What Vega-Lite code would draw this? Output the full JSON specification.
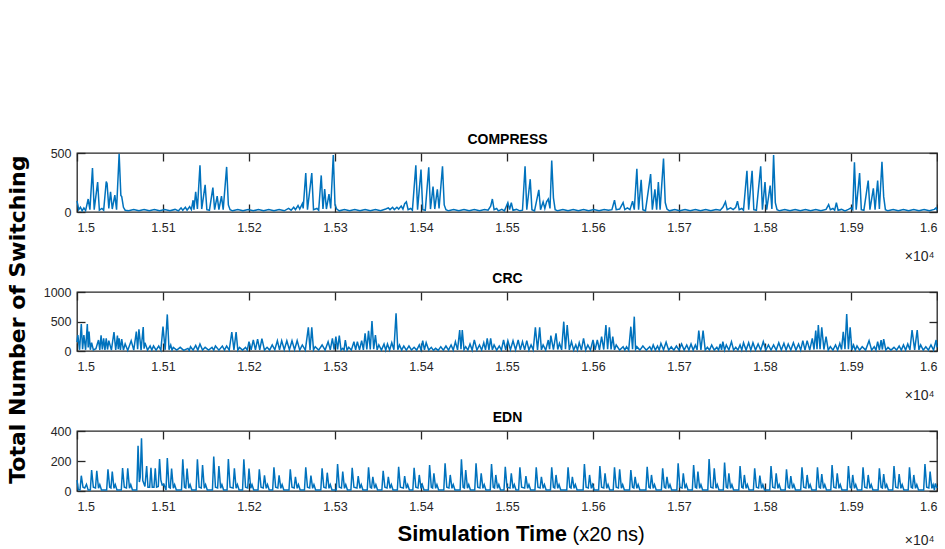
{
"$schema": "https://vega.github.io/schema/vega-lite/v6.json",
"background": "white",
"padding": {"left": 6, "top": 131, "right": -3, "bottom": 0},
"title": {"text": "Total Number of Switching", "orient": "left", "anchor": "middle", "font": "DejaVu Sans", "fontSize": 22, "fontWeight": "bold", "color": "#000000", "offset": 13, "dx": 20},
"config": {
  "font": "Liberation Sans",
  "view": {"stroke": "#262626", "strokeWidth": 1.3},
  "axis": {"domain": false, "grid": false, "tickColor": "#262626", "tickWidth": 1.3, "tickSize": -8, "labelColor": "#262626", "labelFont": "Liberation Sans", "labelFontSize": 12.5, "titleFont": "Liberation Sans"}
},
"spacing": 6,
"datasets": {
"compress": [
{"t":15000,"v":95},{"t":15002,"v":20},{"t":15004,"v":40},{"t":15006,"v":10},{"t":15008,"v":35},{"t":15010,"v":12},{"t":15013,"v":110},{"t":15015,"v":20},{"t":15018,"v":373},{"t":15020,"v":20},{"t":15024,"v":253},{"t":15026,"v":15},{"t":15029,"v":30},{"t":15031,"v":15},{"t":15034,"v":258},{"t":15035,"v":240},{"t":15037,"v":30},{"t":15039,"v":172},{"t":15041,"v":25},{"t":15044,"v":143},{"t":15046,"v":20},{"t":15049,"v":494},{"t":15051,"v":140},{"t":15052,"v":130},{"t":15054,"v":40},{"t":15056,"v":15},
{"t":15060,"v":10},{"t":15066,"v":22},{"t":15072,"v":10},{"t":15078,"v":22},{"t":15084,"v":10},{"t":15090,"v":22},{"t":15096,"v":10},{"t":15102,"v":22},{"t":15108,"v":10},{"t":15114,"v":22},{"t":15118,"v":10},{"t":15121,"v":35},{"t":15123,"v":15},{"t":15126,"v":40},{"t":15128,"v":15},{"t":15131,"v":45},{"t":15133,"v":20},{"t":15135,"v":100},{"t":15136,"v":20},{"t":15138,"v":172},{"t":15140,"v":25},{"t":15143,"v":396},{"t":15145,"v":25},{"t":15149,"v":230},{"t":15151,"v":20},{"t":15154,"v":15},{"t":15158,"v":207},{"t":15160,"v":20},{"t":15163,"v":135},{"t":15165,"v":20},{"t":15168,"v":135},{"t":15170,"v":20},{"t":15174,"v":382},{"t":15176,"v":60},{"t":15178,"v":20},
{"t":15181,"v":10},{"t":15187,"v":22},{"t":15193,"v":10},{"t":15199,"v":22},{"t":15205,"v":10},{"t":15211,"v":22},{"t":15217,"v":10},{"t":15223,"v":22},{"t":15229,"v":10},{"t":15235,"v":22},{"t":15241,"v":10},{"t":15246,"v":30},{"t":15249,"v":15},{"t":15252,"v":40},{"t":15254,"v":20},{"t":15257,"v":55},{"t":15259,"v":25},{"t":15262,"v":70},{"t":15263,"v":30},{"t":15266,"v":330},{"t":15268,"v":20},{"t":15273,"v":330},{"t":15275,"v":20},{"t":15279,"v":30},{"t":15281,"v":15},{"t":15284,"v":310},{"t":15286,"v":25},{"t":15288,"v":195},{"t":15290,"v":25},{"t":15293,"v":152},{"t":15295,"v":30},{"t":15298,"v":482},{"t":15300,"v":60},{"t":15302,"v":25},
{"t":15305,"v":10},{"t":15311,"v":22},{"t":15317,"v":10},{"t":15323,"v":22},{"t":15329,"v":10},{"t":15335,"v":22},{"t":15341,"v":10},{"t":15347,"v":22},{"t":15353,"v":10},{"t":15359,"v":25},{"t":15362,"v":35},{"t":15364,"v":20},{"t":15367,"v":40},{"t":15369,"v":20},{"t":15372,"v":40},{"t":15374,"v":25},{"t":15377,"v":50},{"t":15379,"v":25},{"t":15381,"v":70},{"t":15383,"v":86},{"t":15385,"v":20},{"t":15388,"v":30},{"t":15390,"v":15},{"t":15394,"v":396},{"t":15396,"v":20},{"t":15400,"v":359},{"t":15402,"v":20},{"t":15405,"v":15},{"t":15409,"v":379},{"t":15411,"v":25},{"t":15414,"v":215},{"t":15416,"v":25},{"t":15419,"v":192},{"t":15421,"v":30},{"t":15425,"v":387},{"t":15427,"v":60},{"t":15429,"v":20},
{"t":15432,"v":10},{"t":15438,"v":22},{"t":15444,"v":10},{"t":15450,"v":22},{"t":15456,"v":10},{"t":15462,"v":22},{"t":15468,"v":10},{"t":15474,"v":22},{"t":15478,"v":15},{"t":15481,"v":50},{"t":15483,"v":110},{"t":15485,"v":20},{"t":15488,"v":30},{"t":15490,"v":10},{"t":15494,"v":22},{"t":15497,"v":10},{"t":15501,"v":80},{"t":15503,"v":20},{"t":15505,"v":80},{"t":15507,"v":15},{"t":15511,"v":22},{"t":15515,"v":10},{"t":15518,"v":15},{"t":15521,"v":387},{"t":15523,"v":20},{"t":15527,"v":278},{"t":15529,"v":20},{"t":15532,"v":10},{"t":15537,"v":187},{"t":15539,"v":20},{"t":15542,"v":86},{"t":15544,"v":30},{"t":15546,"v":86},{"t":15548,"v":110},{"t":15550,"v":30},{"t":15552,"v":436},{"t":15554,"v":120},{"t":15556,"v":20},
{"t":15559,"v":10},{"t":15565,"v":22},{"t":15571,"v":10},{"t":15577,"v":22},{"t":15583,"v":10},{"t":15589,"v":22},{"t":15595,"v":10},{"t":15601,"v":22},{"t":15607,"v":10},{"t":15613,"v":22},{"t":15618,"v":15},{"t":15622,"v":20},{"t":15625,"v":100},{"t":15627,"v":20},{"t":15631,"v":25},{"t":15635,"v":80},{"t":15637,"v":20},{"t":15640,"v":35},{"t":15643,"v":20},{"t":15646,"v":92},{"t":15648,"v":20},{"t":15651,"v":367},{"t":15653,"v":20},{"t":15656,"v":272},{"t":15658,"v":20},{"t":15661,"v":10},{"t":15667,"v":321},{"t":15669,"v":20},{"t":15672,"v":192},{"t":15674,"v":20},{"t":15676,"v":253},{"t":15678,"v":20},{"t":15682,"v":453},{"t":15684,"v":80},{"t":15686,"v":25},
{"t":15689,"v":10},{"t":15695,"v":22},{"t":15701,"v":10},{"t":15707,"v":22},{"t":15713,"v":10},{"t":15719,"v":22},{"t":15725,"v":10},{"t":15731,"v":22},{"t":15737,"v":10},{"t":15743,"v":22},{"t":15748,"v":15},{"t":15751,"v":40},{"t":15754,"v":86},{"t":15756,"v":20},{"t":15760,"v":35},{"t":15763,"v":20},{"t":15766,"v":40},{"t":15768,"v":92},{"t":15770,"v":20},{"t":15773,"v":30},{"t":15775,"v":15},{"t":15779,"v":350},{"t":15781,"v":20},{"t":15785,"v":350},{"t":15787,"v":20},{"t":15790,"v":15},{"t":15795,"v":387},{"t":15797,"v":20},{"t":15800,"v":253},{"t":15802,"v":20},{"t":15806,"v":224},{"t":15808,"v":25},{"t":15810,"v":482},{"t":15812,"v":80},{"t":15814,"v":20},
{"t":15817,"v":10},{"t":15823,"v":22},{"t":15829,"v":10},{"t":15835,"v":22},{"t":15841,"v":10},{"t":15847,"v":22},{"t":15853,"v":10},{"t":15859,"v":22},{"t":15865,"v":10},{"t":15871,"v":22},{"t":15874,"v":63},{"t":15876,"v":20},{"t":15879,"v":30},{"t":15881,"v":15},{"t":15883,"v":80},{"t":15885,"v":15},{"t":15889,"v":22},{"t":15893,"v":10},{"t":15897,"v":22},{"t":15900,"v":35},{"t":15902,"v":20},{"t":15904,"v":422},{"t":15906,"v":20},{"t":15910,"v":330},{"t":15912,"v":20},{"t":15915,"v":15},{"t":15920,"v":267},{"t":15922,"v":20},{"t":15926,"v":201},{"t":15928,"v":20},{"t":15931,"v":267},{"t":15933,"v":25},{"t":15936,"v":425},{"t":15938,"v":130},{"t":15940,"v":20},
{"t":15943,"v":10},{"t":15949,"v":22},{"t":15955,"v":10},{"t":15961,"v":22},{"t":15967,"v":10},{"t":15973,"v":22},{"t":15979,"v":10},{"t":15985,"v":22},{"t":15991,"v":10},{"t":15997,"v":22},{"t":15999,"v":35},{"t":16000,"v":15}
],
"crc": [
{"t":15000,"v":150},{"t":15001,"v":270},{"t":15003,"v":20},{"t":15005,"v":458},{"t":15006.5,"v":30},{"t":15008,"v":270},{"t":15010,"v":20},{"t":15012,"v":458},{"t":15013,"v":60},{"t":15014,"v":328},{"t":15015.5,"v":20},{"t":15017,"v":141},{"t":15019,"v":17},{"t":15022,"v":40},{"t":15025,"v":186},{"t":15026.5,"v":20},{"t":15028,"v":265},{"t":15029.5,"v":25},{"t":15031,"v":215},{"t":15032.5,"v":20},{"t":15034,"v":215},{"t":15035.5,"v":25},{"t":15037,"v":175},{"t":15040,"v":15},{"t":15043,"v":322},{"t":15045,"v":20},{"t":15047,"v":260},{"t":15048,"v":30},{"t":15049,"v":215},{"t":15050.5,"v":20},{"t":15052,"v":200},{"t":15054,"v":15},{"t":15056,"v":120},{"t":15059,"v":10},{"t":15063,"v":175},{"t":15066,"v":15},{"t":15069,"v":328},{"t":15070.5,"v":30},{"t":15072,"v":367},{"t":15074.5,"v":15},{"t":15077,"v":407},{"t":15078,"v":40},{"t":15079,"v":141},{"t":15082,"v":15},{"t":15085,"v":85},{"t":15087,"v":15},{"t":15089,"v":85},{"t":15092,"v":15},{"t":15095,"v":85},{"t":15097.5,"v":15},{"t":15100,"v":412},{"t":15102.5,"v":20},{"t":15105,"v":620},{"t":15107,"v":20},{"t":15109,"v":102},{"t":15110.5,"v":15},{"t":15112,"v":62},{"t":15116,"v":15},{"t":15120,"v":62},{"t":15124,"v":10},{"t":15129,"v":45},{"t":15130.5,"v":10},{"t":15132,"v":73},{"t":15135,"v":15},{"t":15138,"v":96},{"t":15140.5,"v":15},{"t":15143,"v":119},{"t":15146,"v":15},{"t":15149,"v":62},{"t":15153,"v":15},{"t":15157,"v":62},{"t":15159,"v":15},{"t":15161,"v":85},{"t":15165,"v":15},{"t":15169,"v":85},{"t":15171.5,"v":15},{"t":15174,"v":85},{"t":15177,"v":15},{"t":15180,"v":322},{"t":15182.5,"v":20},{"t":15185,"v":322},{"t":15187,"v":15},{"t":15189,"v":62},{"t":15192.5,"v":15},{"t":15196,"v":62},{"t":15198,"v":15},{"t":15200,"v":158},{"t":15202.5,"v":20},{"t":15205,"v":186},{"t":15207.5,"v":20},{"t":15210,"v":200},{"t":15212.5,"v":20},{"t":15215,"v":210},{"t":15218,"v":15},{"t":15221,"v":62},{"t":15224,"v":15},{"t":15227,"v":102},{"t":15230,"v":20},{"t":15233,"v":175},{"t":15235.5,"v":20},{"t":15238,"v":175},{"t":15241,"v":20},{"t":15244,"v":175},{"t":15247,"v":20},{"t":15250,"v":175},{"t":15253,"v":20},{"t":15256,"v":175},{"t":15259,"v":15},{"t":15262,"v":102},{"t":15265.5,"v":15},{"t":15269,"v":400},{"t":15271,"v":20},{"t":15273,"v":400},{"t":15275,"v":20},{"t":15277,"v":73},{"t":15281,"v":15},{"t":15285,"v":102},{"t":15288.5,"v":15},{"t":15292,"v":158},{"t":15294.5,"v":20},{"t":15297,"v":215},{"t":15299,"v":25},{"t":15301,"v":243},{"t":15303,"v":25},{"t":15305,"v":260},{"t":15307,"v":15},{"t":15309,"v":45},{"t":15310.5,"v":15},{"t":15312,"v":186},{"t":15314,"v":15},{"t":15316,"v":62},{"t":15319,"v":15},{"t":15322,"v":158},{"t":15324,"v":20},{"t":15326,"v":158},{"t":15328.5,"v":20},{"t":15331,"v":175},{"t":15333,"v":20},{"t":15335,"v":300},{"t":15337,"v":25},{"t":15339,"v":340},{"t":15341,"v":25},{"t":15343,"v":508},{"t":15345,"v":30},{"t":15347,"v":271},{"t":15349,"v":20},{"t":15351,"v":102},{"t":15354,"v":15},{"t":15357,"v":119},{"t":15359,"v":15},{"t":15361,"v":119},{"t":15363.5,"v":15},{"t":15366,"v":141},{"t":15368.5,"v":20},{"t":15371,"v":638},{"t":15373,"v":20},{"t":15375,"v":102},{"t":15377.5,"v":15},{"t":15380,"v":85},{"t":15383,"v":15},{"t":15386,"v":85},{"t":15389,"v":15},{"t":15392,"v":62},{"t":15395,"v":15},{"t":15398,"v":102},{"t":15400,"v":20},{"t":15402,"v":175},{"t":15404,"v":20},{"t":15406,"v":141},{"t":15409,"v":15},{"t":15412,"v":62},{"t":15414.5,"v":10},{"t":15417,"v":45},{"t":15420,"v":10},{"t":15423,"v":73},{"t":15426,"v":15},{"t":15429,"v":85},{"t":15432,"v":15},{"t":15435,"v":102},{"t":15437.5,"v":15},{"t":15440,"v":158},{"t":15442.5,"v":20},{"t":15445,"v":356},{"t":15446.5,"v":30},{"t":15448,"v":356},{"t":15450,"v":20},{"t":15452,"v":73},{"t":15454.5,"v":15},{"t":15457,"v":119},{"t":15459.5,"v":15},{"t":15462,"v":186},{"t":15465,"v":15},{"t":15468,"v":102},{"t":15470.5,"v":15},{"t":15473,"v":141},{"t":15475,"v":20},{"t":15477,"v":215},{"t":15479,"v":20},{"t":15481,"v":215},{"t":15483,"v":20},{"t":15485,"v":102},{"t":15488,"v":15},{"t":15491,"v":85},{"t":15493.5,"v":15},{"t":15496,"v":186},{"t":15498.5,"v":20},{"t":15501,"v":175},{"t":15504,"v":20},{"t":15507,"v":175},{"t":15510,"v":20},{"t":15513,"v":186},{"t":15515.5,"v":20},{"t":15518,"v":158},{"t":15520.5,"v":20},{"t":15523,"v":175},{"t":15525.5,"v":15},{"t":15528,"v":102},{"t":15530.5,"v":20},{"t":15533,"v":400},{"t":15535.5,"v":20},{"t":15538,"v":400},{"t":15540,"v":20},{"t":15542,"v":102},{"t":15545,"v":15},{"t":15548,"v":186},{"t":15549.5,"v":30},{"t":15551,"v":260},{"t":15554,"v":25},{"t":15557,"v":300},{"t":15559,"v":25},{"t":15561,"v":130},{"t":15563.5,"v":20},{"t":15566,"v":497},{"t":15568,"v":30},{"t":15570,"v":440},{"t":15572.5,"v":20},{"t":15575,"v":158},{"t":15577.5,"v":15},{"t":15580,"v":102},{"t":15582,"v":15},{"t":15584,"v":141},{"t":15586.5,"v":15},{"t":15589,"v":215},{"t":15591.5,"v":15},{"t":15594,"v":102},{"t":15597,"v":15},{"t":15600,"v":186},{"t":15602.5,"v":20},{"t":15605,"v":186},{"t":15607.5,"v":20},{"t":15610,"v":243},{"t":15612.5,"v":25},{"t":15615,"v":440},{"t":15617,"v":30},{"t":15619,"v":400},{"t":15621,"v":25},{"t":15623,"v":243},{"t":15625,"v":20},{"t":15627,"v":102},{"t":15631,"v":15},{"t":15635,"v":73},{"t":15637,"v":15},{"t":15639,"v":73},{"t":15641.5,"v":15},{"t":15644,"v":412},{"t":15646,"v":30},{"t":15648,"v":582},{"t":15649.5,"v":30},{"t":15651,"v":73},{"t":15654.5,"v":15},{"t":15658,"v":85},{"t":15662,"v":15},{"t":15666,"v":73},{"t":15668,"v":15},{"t":15670,"v":102},{"t":15672.5,"v":15},{"t":15675,"v":85},{"t":15677,"v":15},{"t":15679,"v":130},{"t":15682,"v":20},{"t":15685,"v":150},{"t":15688,"v":15},{"t":15691,"v":73},{"t":15694,"v":15},{"t":15697,"v":85},{"t":15700,"v":15},{"t":15703,"v":119},{"t":15706,"v":15},{"t":15709,"v":102},{"t":15711.5,"v":15},{"t":15714,"v":119},{"t":15716.5,"v":15},{"t":15719,"v":102},{"t":15721,"v":20},{"t":15723,"v":345},{"t":15725.5,"v":20},{"t":15728,"v":345},{"t":15730.5,"v":15},{"t":15733,"v":62},{"t":15735.5,"v":15},{"t":15738,"v":102},{"t":15741,"v":15},{"t":15744,"v":62},{"t":15746,"v":15},{"t":15748,"v":119},{"t":15749.5,"v":20},{"t":15751,"v":158},{"t":15753,"v":15},{"t":15755,"v":102},{"t":15758,"v":15},{"t":15761,"v":158},{"t":15763.5,"v":15},{"t":15766,"v":62},{"t":15768.5,"v":15},{"t":15771,"v":102},{"t":15773,"v":15},{"t":15775,"v":141},{"t":15778,"v":15},{"t":15781,"v":141},{"t":15783.5,"v":15},{"t":15786,"v":141},{"t":15789,"v":15},{"t":15792,"v":119},{"t":15795,"v":15},{"t":15798,"v":158},{"t":15801,"v":15},{"t":15804,"v":102},{"t":15807,"v":15},{"t":15810,"v":102},{"t":15813,"v":15},{"t":15816,"v":141},{"t":15819,"v":15},{"t":15822,"v":130},{"t":15824.5,"v":15},{"t":15827,"v":119},{"t":15830,"v":15},{"t":15833,"v":141},{"t":15836,"v":15},{"t":15839,"v":119},{"t":15841.5,"v":15},{"t":15844,"v":175},{"t":15846.5,"v":15},{"t":15849,"v":175},{"t":15852,"v":15},{"t":15855,"v":215},{"t":15857,"v":25},{"t":15859,"v":345},{"t":15860.5,"v":30},{"t":15862,"v":440},{"t":15864,"v":30},{"t":15866,"v":400},{"t":15868.5,"v":25},{"t":15871,"v":243},{"t":15873.5,"v":15},{"t":15876,"v":73},{"t":15879,"v":15},{"t":15882,"v":102},{"t":15884.5,"v":15},{"t":15887,"v":130},{"t":15889,"v":25},{"t":15891,"v":327},{"t":15893,"v":30},{"t":15895,"v":627},{"t":15897,"v":30},{"t":15899,"v":400},{"t":15901,"v":20},{"t":15903,"v":102},{"t":15905,"v":15},{"t":15907,"v":85},{"t":15910,"v":15},{"t":15913,"v":73},{"t":15917,"v":15},{"t":15921,"v":175},{"t":15924,"v":15},{"t":15927,"v":73},{"t":15929,"v":15},{"t":15931,"v":158},{"t":15933,"v":20},{"t":15935,"v":186},{"t":15936.5,"v":25},{"t":15938,"v":200},{"t":15940.5,"v":15},{"t":15943,"v":62},{"t":15946.5,"v":15},{"t":15950,"v":62},{"t":15953,"v":15},{"t":15956,"v":85},{"t":15958.5,"v":15},{"t":15961,"v":102},{"t":15963.5,"v":15},{"t":15966,"v":119},{"t":15968.5,"v":20},{"t":15971,"v":356},{"t":15974,"v":20},{"t":15977,"v":356},{"t":15979,"v":20},{"t":15981,"v":102},{"t":15984,"v":15},{"t":15987,"v":73},{"t":15990,"v":15},{"t":15993,"v":102},{"t":15996,"v":15},{"t":15999,"v":186},{"t":16000,"v":60}
],
"edn": [
{"t":15000,"v":73},{"t":15001.5,"v":10},{"t":15003.5,"v":8},{"t":15005,"v":102},{"t":15007,"v":25},{"t":15009,"v":20},{"t":15011,"v":44},{"t":15013,"v":6},
{"t":15015.5,"v":6},{"t":15017,"v":140},{"t":15019,"v":25},{"t":15021.5,"v":20},{"t":15023,"v":135},{"t":15025,"v":18},{"t":15026.5,"v":42},{"t":15028.5,"v":6},
{"t":15034.5,"v":6},{"t":15036,"v":144},{"t":15038,"v":25},{"t":15039.5,"v":20},{"t":15041,"v":129},{"t":15043,"v":18},{"t":15044.5,"v":42},{"t":15046.5,"v":6},
{"t":15051.5,"v":6},{"t":15053,"v":153},{"t":15055,"v":25},{"t":15057.5,"v":20},{"t":15059,"v":151},{"t":15061,"v":18},{"t":15062.5,"v":42},{"t":15064.5,"v":6},
{"t":15069.5,"v":6},{"t":15071,"v":302},{"t":15072.5,"v":60},{"t":15073.5,"v":90},{"t":15075,"v":351},{"t":15076.5,"v":70},{"t":15079,"v":30},{"t":15081,"v":167},{"t":15082.5,"v":25},{"t":15084.5,"v":25},{"t":15086,"v":155},{"t":15087.5,"v":25},{"t":15089.5,"v":25},{"t":15091,"v":151},{"t":15092.5,"v":25},{"t":15094.5,"v":30},{"t":15096,"v":213},{"t":15097.5,"v":73},{"t":15099,"v":40},{"t":15101,"v":45},{"t":15103.5,"v":6},{"t":15105,"v":220},{"t":15107,"v":25},{"t":15108.5,"v":20},{"t":15110,"v":149},{"t":15112,"v":18},{"t":15113.5,"v":42},{"t":15115.5,"v":6},
{"t":15121.5,"v":6},{"t":15123,"v":211},{"t":15125,"v":25},{"t":15126.5,"v":20},{"t":15128,"v":149},{"t":15130,"v":18},{"t":15131.5,"v":42},{"t":15133.5,"v":6},
{"t":15138.5,"v":6},{"t":15140,"v":211},{"t":15142,"v":25},{"t":15144.5,"v":20},{"t":15146,"v":173},{"t":15148,"v":18},{"t":15149.5,"v":42},{"t":15151.5,"v":6},
{"t":15157.5,"v":6},{"t":15159,"v":229},{"t":15161,"v":25},{"t":15163.5,"v":20},{"t":15165,"v":167},{"t":15167,"v":18},{"t":15168.5,"v":42},{"t":15170.5,"v":6},
{"t":15174.5,"v":6},{"t":15176,"v":213},{"t":15178,"v":25},{"t":15181.5,"v":20},{"t":15183,"v":151},{"t":15185,"v":18},{"t":15186.5,"v":42},{"t":15188.5,"v":6},
{"t":15192.5,"v":6},{"t":15194,"v":211},{"t":15196,"v":25},{"t":15198.5,"v":20},{"t":15200,"v":149},{"t":15202,"v":18},{"t":15203.5,"v":42},{"t":15205.5,"v":6},
{"t":15210.5,"v":6},{"t":15212,"v":144},{"t":15214,"v":25},{"t":15216.5,"v":20},{"t":15218,"v":104},{"t":15220,"v":18},{"t":15221.5,"v":42},{"t":15223.5,"v":6},
{"t":15227.5,"v":6},{"t":15229,"v":158},{"t":15231,"v":25},{"t":15233.5,"v":20},{"t":15235,"v":104},{"t":15237,"v":18},{"t":15238.5,"v":42},{"t":15240.5,"v":6},
{"t":15246.5,"v":6},{"t":15248,"v":144},{"t":15250,"v":25},{"t":15252.5,"v":20},{"t":15254,"v":95},{"t":15256,"v":18},{"t":15257.5,"v":42},{"t":15259.5,"v":6},
{"t":15264.5,"v":6},{"t":15266,"v":158},{"t":15268,"v":25},{"t":15270.5,"v":20},{"t":15272,"v":102},{"t":15274,"v":18},{"t":15275.5,"v":42},{"t":15277.5,"v":6},
{"t":15283.5,"v":6},{"t":15285,"v":151},{"t":15287,"v":25},{"t":15289.5,"v":20},{"t":15291,"v":122},{"t":15293,"v":18},{"t":15294.5,"v":42},{"t":15296.5,"v":6},
{"t":15301.5,"v":6},{"t":15303,"v":180},{"t":15305,"v":25},{"t":15307.5,"v":20},{"t":15309,"v":129},{"t":15311,"v":18},{"t":15312.5,"v":42},{"t":15314.5,"v":6},
{"t":15318.5,"v":6},{"t":15320,"v":155},{"t":15322,"v":25},{"t":15325.5,"v":20},{"t":15327,"v":100},{"t":15329,"v":18},{"t":15330.5,"v":42},{"t":15332.5,"v":6},
{"t":15337.5,"v":6},{"t":15339,"v":158},{"t":15341,"v":25},{"t":15342.5,"v":20},{"t":15344,"v":95},{"t":15346,"v":18},{"t":15347.5,"v":42},{"t":15349.5,"v":6},
{"t":15354.5,"v":6},{"t":15356,"v":135},{"t":15358,"v":25},{"t":15360.5,"v":20},{"t":15362,"v":95},{"t":15364,"v":18},{"t":15365.5,"v":42},{"t":15367.5,"v":6},
{"t":15372.5,"v":6},{"t":15374,"v":162},{"t":15376,"v":25},{"t":15379.5,"v":20},{"t":15381,"v":100},{"t":15383,"v":18},{"t":15384.5,"v":42},{"t":15386.5,"v":6},
{"t":15390.5,"v":6},{"t":15392,"v":155},{"t":15394,"v":25},{"t":15396.5,"v":20},{"t":15398,"v":107},{"t":15400,"v":18},{"t":15401.5,"v":42},{"t":15403.5,"v":6},
{"t":15408.5,"v":6},{"t":15410,"v":173},{"t":15412,"v":25},{"t":15413.5,"v":20},{"t":15415,"v":118},{"t":15417,"v":18},{"t":15418.5,"v":42},{"t":15420.5,"v":6},
{"t":15426.5,"v":6},{"t":15428,"v":184},{"t":15430,"v":25},{"t":15432.5,"v":20},{"t":15434,"v":107},{"t":15436,"v":18},{"t":15437.5,"v":42},{"t":15439.5,"v":6},
{"t":15445.5,"v":6},{"t":15447,"v":211},{"t":15449,"v":25},{"t":15450.5,"v":20},{"t":15452,"v":140},{"t":15454,"v":18},{"t":15455.5,"v":42},{"t":15457.5,"v":6},
{"t":15462.5,"v":6},{"t":15464,"v":184},{"t":15466,"v":25},{"t":15468.5,"v":20},{"t":15470,"v":118},{"t":15472,"v":18},{"t":15473.5,"v":42},{"t":15475.5,"v":6},
{"t":15480.5,"v":6},{"t":15482,"v":180},{"t":15484,"v":25},{"t":15485.5,"v":20},{"t":15487,"v":107},{"t":15489,"v":18},{"t":15490.5,"v":42},{"t":15492.5,"v":6},
{"t":15496.5,"v":6},{"t":15498,"v":162},{"t":15500,"v":25},{"t":15503.5,"v":20},{"t":15505,"v":118},{"t":15507,"v":18},{"t":15508.5,"v":42},{"t":15510.5,"v":6},
{"t":15513.5,"v":6},{"t":15515,"v":158},{"t":15517,"v":25},{"t":15520.5,"v":20},{"t":15522,"v":100},{"t":15524,"v":18},{"t":15525.5,"v":42},{"t":15527.5,"v":6},
{"t":15532.5,"v":6},{"t":15534,"v":158},{"t":15536,"v":25},{"t":15538.5,"v":20},{"t":15540,"v":95},{"t":15542,"v":18},{"t":15543.5,"v":42},{"t":15545.5,"v":6},
{"t":15550.5,"v":6},{"t":15552,"v":158},{"t":15554,"v":25},{"t":15555.5,"v":20},{"t":15557,"v":107},{"t":15559,"v":18},{"t":15560.5,"v":42},{"t":15562.5,"v":6},
{"t":15569.5,"v":6},{"t":15571,"v":158},{"t":15573,"v":25},{"t":15574.5,"v":20},{"t":15576,"v":95},{"t":15578,"v":18},{"t":15579.5,"v":42},{"t":15581.5,"v":6},
{"t":15588.5,"v":6},{"t":15590,"v":180},{"t":15592,"v":25},{"t":15594.5,"v":20},{"t":15596,"v":107},{"t":15598,"v":18},{"t":15599.5,"v":42},{"t":15601.5,"v":6},
{"t":15606.5,"v":6},{"t":15608,"v":167},{"t":15610,"v":25},{"t":15612.5,"v":20},{"t":15614,"v":118},{"t":15616,"v":18},{"t":15617.5,"v":42},{"t":15619.5,"v":6},
{"t":15623.5,"v":6},{"t":15625,"v":158},{"t":15627,"v":25},{"t":15629.5,"v":20},{"t":15631,"v":144},{"t":15633,"v":18},{"t":15634.5,"v":42},{"t":15636.5,"v":6},
{"t":15642.5,"v":6},{"t":15644,"v":140},{"t":15646,"v":25},{"t":15647.5,"v":20},{"t":15649,"v":95},{"t":15651,"v":18},{"t":15652.5,"v":42},{"t":15654.5,"v":6},
{"t":15661.5,"v":6},{"t":15663,"v":162},{"t":15665,"v":25},{"t":15666.5,"v":20},{"t":15668,"v":107},{"t":15670,"v":18},{"t":15671.5,"v":42},{"t":15673.5,"v":6},
{"t":15679.5,"v":6},{"t":15681,"v":151},{"t":15683,"v":25},{"t":15684.5,"v":20},{"t":15686,"v":95},{"t":15688,"v":18},{"t":15689.5,"v":42},{"t":15691.5,"v":6},
{"t":15697.5,"v":6},{"t":15699,"v":184},{"t":15701,"v":25},{"t":15703.5,"v":20},{"t":15705,"v":118},{"t":15707,"v":18},{"t":15708.5,"v":42},{"t":15710.5,"v":6},
{"t":15715.5,"v":6},{"t":15717,"v":173},{"t":15719,"v":25},{"t":15720.5,"v":20},{"t":15722,"v":129},{"t":15724,"v":18},{"t":15725.5,"v":42},{"t":15727.5,"v":6},
{"t":15733.5,"v":6},{"t":15735,"v":213},{"t":15737,"v":25},{"t":15739.5,"v":20},{"t":15741,"v":151},{"t":15743,"v":18},{"t":15744.5,"v":42},{"t":15746.5,"v":6},
{"t":15751.5,"v":6},{"t":15753,"v":189},{"t":15755,"v":25},{"t":15756.5,"v":20},{"t":15758,"v":118},{"t":15760,"v":18},{"t":15761.5,"v":42},{"t":15763.5,"v":6},
{"t":15769.5,"v":6},{"t":15771,"v":167},{"t":15773,"v":25},{"t":15774.5,"v":20},{"t":15776,"v":107},{"t":15778,"v":18},{"t":15779.5,"v":42},{"t":15781.5,"v":6},
{"t":15786.5,"v":6},{"t":15788,"v":151},{"t":15790,"v":25},{"t":15792.5,"v":20},{"t":15794,"v":102},{"t":15796,"v":18},{"t":15797.5,"v":42},{"t":15799.5,"v":6},
{"t":15805.5,"v":6},{"t":15807,"v":167},{"t":15809,"v":25},{"t":15811.5,"v":20},{"t":15813,"v":118},{"t":15815,"v":18},{"t":15816.5,"v":42},{"t":15818.5,"v":6},
{"t":15823.5,"v":6},{"t":15825,"v":144},{"t":15827,"v":25},{"t":15828.5,"v":20},{"t":15830,"v":100},{"t":15832,"v":18},{"t":15833.5,"v":42},{"t":15835.5,"v":6},
{"t":15841.5,"v":6},{"t":15843,"v":158},{"t":15845,"v":25},{"t":15847.5,"v":20},{"t":15849,"v":107},{"t":15851,"v":18},{"t":15852.5,"v":42},{"t":15854.5,"v":6},
{"t":15859.5,"v":6},{"t":15861,"v":158},{"t":15863,"v":25},{"t":15864.5,"v":20},{"t":15866,"v":113},{"t":15868,"v":18},{"t":15869.5,"v":42},{"t":15871.5,"v":6},
{"t":15876.5,"v":6},{"t":15878,"v":173},{"t":15880,"v":25},{"t":15882.5,"v":20},{"t":15884,"v":118},{"t":15886,"v":18},{"t":15887.5,"v":42},{"t":15889.5,"v":6},
{"t":15895.5,"v":6},{"t":15897,"v":167},{"t":15899,"v":25},{"t":15900.5,"v":20},{"t":15902,"v":107},{"t":15904,"v":18},{"t":15905.5,"v":42},{"t":15907.5,"v":6},
{"t":15912.5,"v":6},{"t":15914,"v":158},{"t":15916,"v":25},{"t":15918.5,"v":20},{"t":15920,"v":107},{"t":15922,"v":18},{"t":15923.5,"v":42},{"t":15925.5,"v":6},
{"t":15931.5,"v":6},{"t":15933,"v":151},{"t":15935,"v":25},{"t":15936.5,"v":20},{"t":15938,"v":113},{"t":15940,"v":18},{"t":15941.5,"v":42},{"t":15943.5,"v":6},
{"t":15948.5,"v":6},{"t":15950,"v":167},{"t":15952,"v":25},{"t":15954.5,"v":20},{"t":15956,"v":113},{"t":15958,"v":18},{"t":15959.5,"v":42},{"t":15961.5,"v":6},
{"t":15966.5,"v":6},{"t":15968,"v":158},{"t":15970,"v":25},{"t":15971.5,"v":20},{"t":15973,"v":107},{"t":15975,"v":18},{"t":15976.5,"v":42},{"t":15978.5,"v":6},
{"t":15984.5,"v":6},{"t":15986,"v":180},{"t":15988,"v":25},{"t":15990.5,"v":20},{"t":15992,"v":129},{"t":15994,"v":18},{"t":15995.5,"v":42},{"t":15997,"v":6},{"t":15998,"v":50},{"t":16000,"v":20}
]
},
"vconcat": [
{
  "width": 860, "height": 59,
  "data": {"name": "compress"},
  "layer": [
    {"mark": {"type": "line", "color": "#0072BD", "strokeWidth": 1.5},
     "encoding": {
       "x": {"field": "t", "type": "quantitative", "scale": {"domain": [15000, 16000], "nice": false, "zero": false},
             "axis": {"orient": "bottom", "values": [15000,15100,15200,15300,15400,15500,15600,15700,15800,15900,16000], "labelExpr": "format(datum.value/10000, '.3~g')", "labelPadding": 17, "title": null}},
       "y": {"field": "v", "type": "quantitative", "scale": {"domain": [0, 500], "nice": false},
             "axis": {"orient": "left", "values": [0, 500], "format": "d", "labelPadding": 14, "title": null}}}},
    {"mark": {"type": "line", "opacity": 0},
     "encoding": {
       "x": {"field": "t", "type": "quantitative",
             "axis": {"orient": "top", "values": [15000,15100,15200,15300,15400,15500,15600,15700,15800,15900,16000], "labels": false, "title": "COMPRESS", "titleFontSize": 14, "titleFontWeight": "bold", "titleColor": "#000000", "titlePadding": 6}},
       "y": {"field": "v", "type": "quantitative",
             "axis": {"orient": "right", "values": [0, 500], "labels": false, "title": "×10⁴", "titleAngle": 0, "titleX": -3, "titleY": 103, "titleAlign": "right", "titleBaseline": "middle", "titleFontWeight": "normal", "titleFontSize": 14, "titleColor": "#262626"}}}}
  ],
  "resolve": {"axis": {"x": "independent", "y": "independent"}}
},
{
  "width": 860, "height": 59,
  "data": {"name": "crc"},
  "layer": [
    {"mark": {"type": "line", "color": "#0072BD", "strokeWidth": 1.5},
     "encoding": {
       "x": {"field": "t", "type": "quantitative", "scale": {"domain": [15000, 16000], "nice": false, "zero": false},
             "axis": {"orient": "bottom", "values": [15000,15100,15200,15300,15400,15500,15600,15700,15800,15900,16000], "labelExpr": "format(datum.value/10000, '.3~g')", "labelPadding": 17, "title": null}},
       "y": {"field": "v", "type": "quantitative", "scale": {"domain": [0, 1000], "nice": false},
             "axis": {"orient": "left", "values": [0, 500, 1000], "format": "d", "labelPadding": 14, "title": null}}}},
    {"mark": {"type": "line", "opacity": 0},
     "encoding": {
       "x": {"field": "t", "type": "quantitative",
             "axis": {"orient": "top", "values": [15000,15100,15200,15300,15400,15500,15600,15700,15800,15900,16000], "labels": false, "title": "CRC", "titleFontSize": 14, "titleFontWeight": "bold", "titleColor": "#000000", "titlePadding": 6}},
       "y": {"field": "v", "type": "quantitative",
             "axis": {"orient": "right", "values": [0, 500, 1000], "labels": false, "title": "×10⁴", "titleAngle": 0, "titleX": -3, "titleY": 103, "titleAlign": "right", "titleBaseline": "middle", "titleFontWeight": "normal", "titleFontSize": 14, "titleColor": "#262626"}}}}
  ],
  "resolve": {"axis": {"x": "independent", "y": "independent"}}
},
{
  "width": 860, "height": 60,
  "data": {"name": "edn"},
  "layer": [
    {"mark": {"type": "line", "color": "#0072BD", "strokeWidth": 1.5},
     "encoding": {
       "x": {"field": "t", "type": "quantitative", "scale": {"domain": [15000, 16000], "nice": false, "zero": false},
             "axis": {"orient": "bottom", "values": [15000,15100,15200,15300,15400,15500,15600,15700,15800,15900,16000], "labelExpr": "format(datum.value/10000, '.3~g')", "labelPadding": 17,
                      "title": "Simulation Time", "titleFont": "Liberation Sans", "titleFontSize": 22, "titleFontWeight": "bold", "titleColor": "#000000", "titleAlign": "left", "titleAnchor": "start", "titleX": 320, "titleY": 49, "titleBaseline": "alphabetic"}},
       "y": {"field": "v", "type": "quantitative", "scale": {"domain": [0, 400], "nice": false},
             "axis": {"orient": "left", "values": [0, 200, 400], "format": "d", "labelPadding": 14,
                      "title": "(x20 ns)", "titleAngle": 0, "titleX": 495, "titleY": 109, "titleAlign": "left", "titleBaseline": "alphabetic", "titleFontSize": 20, "titleFontWeight": "normal", "titleColor": "#000000"}}}},
    {"mark": {"type": "line", "opacity": 0},
     "encoding": {
       "x": {"field": "t", "type": "quantitative",
             "axis": {"orient": "top", "values": [15000,15100,15200,15300,15400,15500,15600,15700,15800,15900,16000], "labels": false, "title": "EDN", "titleFontSize": 14, "titleFontWeight": "bold", "titleColor": "#000000", "titlePadding": 6}},
       "y": {"field": "v", "type": "quantitative",
             "axis": {"orient": "right", "values": [0, 200, 400], "labels": false, "title": "×10⁴", "titleAngle": 0, "titleX": -3, "titleY": 109, "titleAlign": "right", "titleBaseline": "middle", "titleFontWeight": "normal", "titleFontSize": 14, "titleColor": "#262626"}}}}
  ],
  "resolve": {"axis": {"x": "independent", "y": "independent"}}
}
]
}
